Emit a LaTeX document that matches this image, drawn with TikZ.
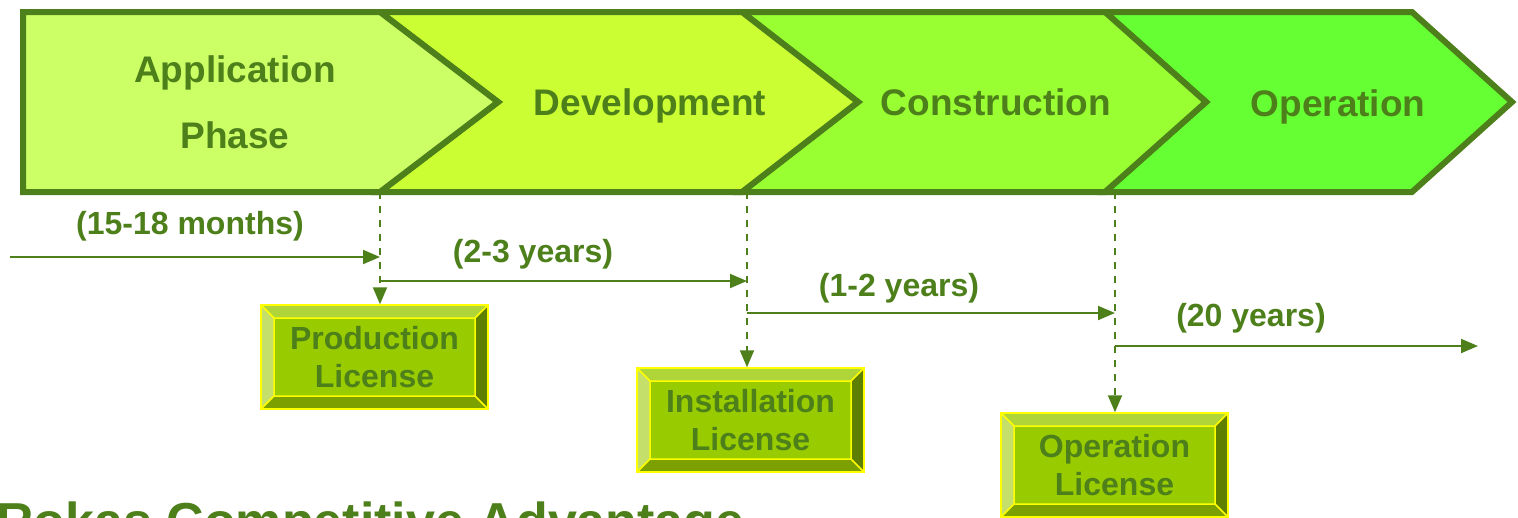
\documentclass[tikz,border=0pt]{standalone}
\usepackage{fontspec}
\setmainfont{Liberation Sans}
\usetikzlibrary{arrows.meta}
\definecolor{dk}{HTML}{4D801A}
\definecolor{cA}{HTML}{CCFF66}
\definecolor{cB}{HTML}{CCFF33}
\definecolor{cC}{HTML}{99FF33}
\definecolor{cD}{HTML}{66FF33}
\definecolor{face}{HTML}{99CC00}
\definecolor{topb}{HTML}{B0D538}
\definecolor{leftb}{HTML}{C4E06A}
\definecolor{rightb}{HTML}{5F7F00}
\definecolor{botb}{HTML}{7BA000}
\definecolor{yel}{HTML}{FFFF00}
\tikzset{
  chev/.style={draw=dk, line width=6pt, line join=miter},
  phase/.style={text=dk, font=\bfseries\fontsize{37}{66}\selectfont, align=center, inner sep=0pt},
  dur/.style={text=dk, font=\bfseries\fontsize{32}{38}\selectfont, inner sep=0pt, anchor=base},
  tl/.style={draw=dk, line width=2pt, -{Triangle[length=17pt,width=14pt]}},
  dl/.style={tl, dash pattern=on 7pt off 7pt},
  licbox/.style={rectangle, minimum width=227pt, minimum height=104pt, inner sep=0pt,
    fill=face, draw=yel, line width=1.5pt, text=dk, align=center,
    font=\bfseries\fontsize{32}{38}\selectfont,
    execute at begin node={\rule{0pt}{28.5pt}},
    path picture={
      \path (path picture bounding box.north west) coordinate (bNW)
            (path picture bounding box.north east) coordinate (bNE)
            (path picture bounding box.south east) coordinate (bSE)
            (path picture bounding box.south west) coordinate (bSW);
      \path ([shift={(13pt,-13pt)}]bNW) coordinate (bnw)
            ([shift={(-13pt,-13pt)}]bNE) coordinate (bne)
            ([shift={(-13pt,13pt)}]bSE) coordinate (bse)
            ([shift={(13pt,13pt)}]bSW) coordinate (bsw);
      \fill[topb] (bNW) -- (bNE) -- (bne) -- (bnw) -- cycle;
      \fill[leftb] (bNW) -- (bnw) -- (bsw) -- (bSW) -- cycle;
      \fill[rightb] (bNE) -- (bne) -- (bse) -- (bSE) -- cycle;
      \fill[botb] (bSW) -- (bsw) -- (bse) -- (bSE) -- cycle;
      \draw[yel, line width=1.5pt] (bnw) rectangle (bse)
        (bNW) -- (bnw) (bNE) -- (bne) (bSE) -- (bse) (bSW) -- (bsw);
    }}
}
\begin{document}
\begin{tikzpicture}[x=1pt,y=-1pt]
\useasboundingbox (0,0) rectangle (1518,517);
\clip (0,0) rectangle (1518,517);
% chevrons
\path[chev, fill=cD] (1105,12) -- (1412,12) -- (1512,102) -- (1412,192) -- (1105,192) -- (1206,102) -- cycle;
\path[chev, fill=cC] (742,12) -- (1105,12) -- (1206,102) -- (1105,192) -- (742,192) -- (858,102) -- cycle;
\path[chev, fill=cB] (380,12) -- (742,12) -- (858,102) -- (742,192) -- (380,192) -- (498,102) -- cycle;
\path[chev, fill=cA] (23,12) -- (380,12) -- (498,102) -- (380,192) -- (23,192) -- cycle;
% phase texts
\node[phase] (p1) at (235,102) {Application\\Phase};
\node[phase, anchor=base] (p2) at (650,115) {Development};
\node[phase, anchor=base] (p3) at (996,115) {Construction};
\node[phase, anchor=base] (p4) at (1338,116) {Operation};
% license boxes
\node[licbox] (pl) at (374.5,357) {Production\\License};
\node[licbox] (il) at (750.5,420) {Installation\\License};
\node[licbox] (ol) at (1114.5,465) {Operation\\License};
% milestones
\coordinate (d1) at (380,192);
\coordinate (d2) at (747,192);
\coordinate (d3) at (1115,192);
\draw[dl] (d1) -- (d1 |- pl.north);
\draw[dl] (d2) -- (d2 |- il.north);
\draw[dl] (d3) -- (d3 |- ol.north);
% durations
\coordinate (a0) at (10,257);
\coordinate (a1) at (380,281);
\coordinate (a2) at (747,313);
\coordinate (a3) at (1115,346);
\coordinate (a4) at (1478,346);
\draw[tl] (a0) -- (a0 -| d1);
\draw[tl] (a1) -- (a1 -| d2);
\draw[tl] (a2) -- (a2 -| d3);
\draw[tl] (a3) -- (a4);
\node[dur] (l1) at (190,234) {(15-18 months)};
\node[dur] (l2) at (533,262) {(2-3 years)};
\node[dur] (l3) at (899,296) {(1-2 years)};
\node[dur] (l4) at (1251,326) {(20 years)};
% title
\node[text=dk, font=\bfseries\fontsize{52}{60}\selectfont, anchor=base west, inner sep=0pt] (adv) at (-4,539) {Rokas Competitive Advantage};
\end{tikzpicture}
\end{document}
